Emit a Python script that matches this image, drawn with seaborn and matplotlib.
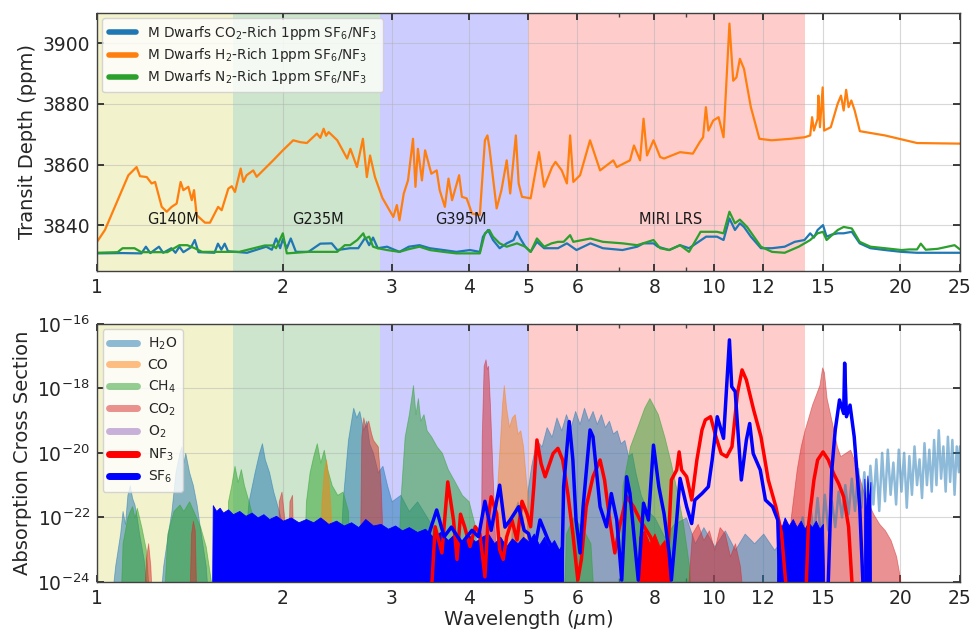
import numpy as np
import pandas as pd
import matplotlib
matplotlib.use("Agg")
import matplotlib.pyplot as plt
import seaborn as sns
from matplotlib.lines import Line2D
from matplotlib.ticker import FixedLocator, FixedFormatter, NullFormatter, LogLocator, NullLocator

# ---------------- observing modes ----------------
band_names = ["G140M", "G235M", "G395M", "MIRI LRS"]
band_lo = [1.0, 1.66, 2.87, 5.0]
band_hi = [1.66, 2.87, 5.0, 14.0]
band_colors = [(0.75, 0.75, 0.0), (0.0, 0.5, 0.0), (0.0, 0.0, 1.0), (1.0, 0.0, 0.0)]
band_label_x = [1.33, 2.28, 3.88, 8.49]
band_label_y = 3842.0

xtick_vals = [1, 2, 3, 4, 5, 6, 8, 10, 12, 15, 20, 25]
xtick_labels = ["1", "2", "3", "4", "5", "6", "8", "10", "12", "15", "20", "25"]

# ---------------- top panel: transit depth (ppm) ----------------
wl_h2 = [1.00, 1.03, 1.124, 1.159, 1.174, 1.204, 1.226, 1.242, 1.273, 1.297, 1.321, 1.346, 1.366, 1.380,
         1.406, 1.424, 1.436, 1.450, 1.496, 1.524, 1.571, 1.592, 1.632, 1.653, 1.673, 1.709, 1.726, 1.747,
         1.791, 1.814, 1.929, 2.00, 2.079, 2.133, 2.187, 2.271, 2.300, 2.329, 2.350, 2.373, 2.45, 2.542, 2.573, 2.637,
         2.696, 2.736, 2.769, 2.82, 2.90, 3.02, 3.06, 3.09, 3.14, 3.19, 3.25, 3.28, 3.31, 3.36, 3.40, 3.48,
         3.55, 3.59, 3.66, 3.71, 3.76, 3.86, 3.90, 3.97, 4.05, 4.17, 4.25, 4.29, 4.32, 4.44, 4.52, 4.61,
         4.67, 4.77, 4.82, 4.88, 5.04, 5.20, 5.30, 5.46, 5.53, 5.66, 5.77, 5.84, 5.91, 6.06, 6.29, 6.45,
         6.53, 6.86, 6.95, 7.30, 7.41, 7.58, 7.68, 7.78, 7.97, 8.17, 8.29, 8.80, 9.23, 9.47, 9.59, 9.69,
         9.78, 9.96, 10.16, 10.35, 10.58, 10.73, 10.86, 11.00, 11.17, 11.46, 11.83, 12.38, 13.3, 14.0,
         14.3, 14.4, 14.5, 14.7, 14.74, 14.83, 14.98, 15.06, 15.44, 15.84, 16.04, 16.2, 16.35, 16.5,
         16.67, 16.88, 17.21, 18.9, 21.3, 25.0]
td_h2 = [3834.6, 3838.5, 3856.5, 3859.2, 3856.2, 3855.9, 3853.8, 3854.3, 3846.1, 3844.5, 3846.1, 3847.2,
         3854.3, 3851.6, 3852.7, 3848.3, 3851.6, 3843.4, 3840.9, 3840.9, 3846.1, 3845.0, 3852.1, 3852.9,
         3851.0, 3858.7, 3854.3, 3856.5, 3858.1, 3856.0, 3861.4, 3864.7, 3868.0, 3867.4, 3867.1, 3870.2,
         3868.8, 3871.8, 3869.5, 3870.7, 3868.0, 3862.0, 3865.2, 3859.2, 3868.5, 3855.9, 3863.0, 3855.9, 3849.0, 3842.8,
         3846.7, 3841.7, 3850.5, 3854.8, 3868.5, 3852.7, 3865.2, 3854.8, 3864.7, 3857.0, 3858.1, 3851.6,
         3846.1, 3855.4, 3848.3, 3856.5, 3849.4, 3848.9, 3843.9, 3843.4, 3868.0, 3869.6, 3865.8, 3845.6,
         3851.6, 3861.4, 3850.5, 3869.6, 3853.8, 3849.4, 3848.9, 3864.1, 3852.7, 3859.2, 3860.9, 3858.1,
         3853.8, 3869.6, 3854.3, 3856.5, 3868.0, 3861.4, 3858.1, 3861.4, 3859.2, 3861.4, 3866.3, 3861.4,
         3875.1, 3863.0, 3868.0, 3862.5, 3862.0, 3864.1, 3863.6, 3867.4, 3869.0, 3878.9, 3871.2, 3874.5,
         3875.6, 3869.0, 3906.4, 3887.6, 3888.7, 3894.8, 3891.5, 3878.9, 3868.5, 3868.0, 3868.5, 3869.0,
         3869.6, 3875.6, 3871.2, 3875.1, 3882.7, 3872.3, 3885.4, 3871.2, 3872.3, 3880.0, 3882.7, 3877.8,
         3884.6, 3878.9, 3881.1, 3877.8, 3871.0, 3869.6, 3867.1, 3866.9]

wl_co2 = [1.0, 1.1, 1.18, 1.2, 1.22, 1.26, 1.28, 1.32, 1.34, 1.36, 1.38, 1.42, 1.44, 1.46, 1.55, 1.57, 1.59,
          1.61, 1.63, 1.75, 1.88, 1.92, 1.95, 1.98, 2.0, 2.03, 2.06, 2.1, 2.2, 2.3, 2.4, 2.45, 2.57, 2.65,
          2.72, 2.76, 2.8, 2.85, 2.95, 3.09, 3.2, 3.33, 3.46, 3.64, 3.82, 4.02, 4.17, 4.22, 4.3, 4.38, 4.49,
          4.61, 4.73, 4.79, 4.85, 4.94, 5.04, 5.16, 5.3, 5.58, 5.77, 5.98, 6.3, 6.6, 7.1, 7.5, 7.68, 7.97,
          8.1, 8.45, 8.8, 9.1, 9.35, 9.7, 10.1, 10.35, 10.58, 10.8, 11.0, 11.17, 11.46, 11.9, 12.4, 13.0,
          13.5, 14.0, 14.3, 14.5, 14.7, 15.0, 15.2, 15.5, 15.85, 16.2, 16.7, 17.2, 17.9, 18.9, 20.1, 21.3,
          25.0]
td_co2 = [3830.8, 3830.9, 3830.8, 3833.0, 3830.9, 3833.0, 3831.0, 3832.5, 3831.0, 3833.0, 3831.2, 3832.8,
          3835.2, 3831.2, 3831.0, 3834.0, 3832.0, 3834.0, 3831.5, 3831.0, 3833.0, 3832.0, 3835.7, 3832.5,
          3835.5, 3832.5, 3835.7, 3831.3, 3831.3, 3834.0, 3834.1, 3831.9, 3832.5, 3832.5, 3836.0, 3833.5,
          3836.0, 3832.5, 3833.0, 3831.3, 3833.0, 3833.5, 3832.5, 3831.9, 3831.3, 3831.9, 3831.3, 3836.3,
          3838.5, 3835.2, 3832.5, 3834.1, 3835.2, 3837.9, 3835.7, 3833.0, 3831.3, 3834.6, 3832.5, 3832.5,
          3834.1, 3831.9, 3834.1, 3832.5, 3831.9, 3833.0, 3834.1, 3834.1, 3833.0, 3831.9, 3833.5, 3832.5,
          3834.1, 3836.3, 3836.3, 3835.2, 3842.3, 3838.5, 3840.7, 3839.5, 3836.3, 3832.5, 3832.5, 3833.0,
          3834.6, 3835.2, 3837.4, 3836.0, 3838.5, 3840.1, 3836.3, 3837.0, 3837.4, 3837.4, 3837.9, 3834.1,
          3832.5, 3831.9, 3831.3, 3831.0, 3831.0]

wl_n2 = [1.0, 1.08, 1.1, 1.15, 1.18, 1.3, 1.36, 1.4, 1.44, 1.48, 1.7, 1.87, 1.93, 1.95, 2.0, 2.03, 2.2, 2.45,
         2.52, 2.57, 2.64, 2.7, 2.72, 2.76, 2.8, 2.85, 2.95, 3.09, 3.2, 3.33, 3.46, 3.64, 3.82, 4.02, 4.17,
         4.25, 4.32, 4.38, 4.49, 4.61, 4.79, 4.94, 5.04, 5.16, 5.3, 5.45, 5.58, 5.7, 5.84, 5.91, 6.3, 6.6,
         7.1, 7.5, 7.97, 8.17, 8.45, 8.8, 9.1, 9.5, 10.1, 10.35, 10.58, 10.8, 11.0, 11.3, 11.9, 12.4, 13.0,
         13.7, 14.0, 14.3, 14.7, 15.0, 15.2, 15.85, 16.2, 16.7, 17.2, 17.9, 18.9, 20.1, 20.7, 21.3, 21.6,
         22.0, 23.0, 24.5, 25.0]
td_n2 = [3831.0, 3831.2, 3832.5, 3832.5, 3831.2, 3831.2, 3833.5, 3833.5, 3832.5, 3831.3, 3831.3, 3833.4,
         3833.4, 3832.5, 3837.4, 3830.8, 3831.3, 3831.3, 3833.5, 3833.5, 3835.2, 3837.4, 3835.7, 3836.3,
         3833.0, 3832.5, 3831.9, 3831.3, 3832.2, 3833.0, 3831.9, 3831.3, 3830.8, 3830.8, 3830.8, 3837.4,
         3838.5, 3836.3, 3834.1, 3833.0, 3834.1, 3833.0, 3831.3, 3835.7, 3833.0, 3834.1, 3834.6, 3834.6,
         3836.8, 3834.6, 3835.7, 3834.6, 3834.1, 3833.5, 3835.2, 3832.5, 3831.9, 3833.5, 3831.3, 3837.9,
         3837.9, 3837.4, 3844.5, 3840.7, 3841.9, 3839.5, 3833.0, 3831.3, 3831.0, 3833.0, 3834.1, 3835.2,
         3837.4, 3837.9, 3835.2, 3838.5, 3839.5, 3839.0, 3834.6, 3833.0, 3832.5, 3831.9, 3832.1, 3832.1,
         3834.0, 3832.0, 3832.3, 3833.5, 3832.1]

# ---------------- bottom panel: absorption cross sections (log10) ----------------
wl_h2o = [1.05, 1.07, 1.09, 1.10, 1.11, 1.12, 1.13, 1.14, 1.15, 1.16, 1.17, 1.19, 1.20, 1.21,
          1.26, 1.28, 1.30, 1.32, 1.34, 1.36, 1.37, 1.38, 1.39, 1.41, 1.43, 1.45, 1.47, 1.50, 1.52,
          1.70, 1.73, 1.76, 1.80, 1.83, 1.85, 1.87, 1.90, 1.93, 1.97, 2.00, 2.05, 2.10,
          2.45, 2.50, 2.55, 2.60, 2.63, 2.66, 2.70, 2.73, 2.76, 2.80, 2.85, 2.90, 2.95, 3.00, 3.10,
          3.20, 3.30, 3.40, 3.50, 3.60,
          4.65, 4.70, 4.80, 4.90, 4.95,
          4.98, 5.05, 5.15, 5.25, 5.35, 5.45, 5.55, 5.65, 5.75, 5.85, 5.95, 6.05, 6.15, 6.25, 6.35, 6.45,
          6.55, 6.65, 6.75, 6.85, 6.95, 7.05, 7.15, 7.25, 7.35, 7.45, 7.6, 7.8, 8.0, 8.3, 8.6, 9.0, 9.3,
          9.6, 10.0, 10.4, 10.8, 11.2, 11.6, 12.0, 12.5, 13.0, 13.6]
lc_h2o = [-25.0, -23.5, -22.5, -21.8, -22.2, -21.3, -21.0, -21.4, -21.6, -22.0, -22.5, -23.3, -24.0, -25.0,
          -25.0, -23.5, -22.6, -21.8, -20.6, -20.0, -19.8, -20.3, -20.0, -20.6, -21.0, -21.6, -22.4, -23.5, -25.0,
          -25.0, -23.0, -21.5, -20.6, -20.0, -19.7, -20.2, -20.6, -21.2, -21.8, -22.3, -23.0, -25.0,
          -25.0, -21.5, -19.6, -18.6, -18.9, -18.7, -19.3, -19.0, -19.7, -20.0, -20.6, -20.4, -21.0, -21.5, -21.3,
          -21.8, -21.5, -21.9, -22.3, -25.0,
          -25.0, -22.0, -21.5, -22.0, -25.0,
          -21.2, -20.4, -19.6, -19.8, -19.2, -19.5, -18.9, -19.3, -18.8, -19.2, -18.7, -19.1, -18.6, -19.0,
          -18.7, -19.1, -18.8, -19.2, -19.0, -19.4, -19.3, -19.7, -19.6, -20.1, -20.0, -20.6, -21.3, -21.8,
          -22.0, -22.6, -22.2, -22.0, -22.8, -22.3, -22.9, -22.4, -23.0, -22.5, -22.8, -22.5, -23.0, -22.6, -23.5]
wl_h2o_ir = [13.6, 13.9, 14.1, 14.3, 14.5, 14.7, 14.9, 15.1, 15.3, 15.5, 15.7, 15.9, 16.1, 16.3, 16.5, 16.7,
             16.9, 17.1, 17.3, 17.5, 17.7, 17.9, 18.1, 18.3, 18.5, 18.7, 18.9, 19.1, 19.3, 19.5, 19.7, 19.9,
             20.1, 20.3, 20.5, 20.7, 20.9, 21.1, 21.3, 21.5, 21.7, 21.9, 22.1, 22.3, 22.5, 22.7, 22.9, 23.1,
             23.3, 23.5, 23.7, 23.9, 24.1, 24.3, 24.5, 24.7, 24.9, 25.0]
lc_h2o_ir = [-23.5, -22.0, -23.0, -21.6, -22.6, -21.4, -22.8, -21.3, -22.4, -21.5, -22.3, -21.2, -22.0, -21.0,
             -21.9, -20.8, -21.8, -20.5, -21.7, -20.6, -21.9, -20.4, -21.6, -20.2, -21.8, -20.0, -21.5, -19.9,
             -21.3, -20.3, -21.6, -19.9, -21.2, -20.0, -21.7, -20.1, -21.3, -19.8, -21.0, -20.2, -21.4, -19.7,
             -21.0, -19.9, -21.2, -19.6, -21.0, -19.3, -20.8, -19.8, -21.2, -19.5, -20.9, -19.6, -21.3, -19.8,
             -20.6, -19.8]

wl_co = [2.29, 2.31, 2.33, 2.35, 2.37, 2.39, 2.41,
         4.42, 4.45, 4.50, 4.53, 4.56, 4.60, 4.65, 4.70, 4.75, 4.80, 4.85, 4.90, 4.95, 5.00, 5.05]
lc_co = [-25.0, -21.5, -20.6, -20.2, -20.8, -21.8, -25.0,
         -25.0, -21.0, -19.5, -18.5, -17.9, -18.6, -19.2, -18.9, -18.8, -19.4, -19.3, -19.8, -20.8, -21.6, -25.0]

wl_ch4 = [1.09, 1.10, 1.12, 1.13, 1.14, 1.15, 1.16, 1.18, 1.20, 1.22,
          1.28, 1.30, 1.33, 1.36, 1.38, 1.41, 1.44, 1.47, 1.50, 1.53, 1.55,
          1.62, 1.63, 1.65, 1.67, 1.69, 1.71, 1.73, 1.76, 1.80, 1.82,
          2.15, 2.18, 2.21, 2.24, 2.27, 2.30, 2.33, 2.36, 2.40, 2.45, 2.50, 2.55, 2.58,
          3.05, 3.10, 3.15, 3.20, 3.25, 3.28, 3.31, 3.34, 3.38, 3.42, 3.48, 3.55, 3.62, 3.70, 3.80, 3.90,
          4.00, 4.10, 4.15,
          5.70, 5.75, 5.90, 6.10, 6.30, 6.40,
          7.00, 7.10, 7.30, 7.50, 7.70, 7.85, 7.95, 8.10, 8.30, 8.50, 8.70, 8.90, 9.10, 9.20]
lc_ch4 = [-25.0, -22.8, -22.0, -21.8, -21.65, -22.0, -21.7, -22.3, -23.0, -25.0,
          -25.0, -22.5, -21.8, -21.6, -21.8, -21.5, -21.9, -22.3, -22.9, -24.0, -25.0,
          -25.0, -21.5, -21.0, -20.4, -20.9, -20.5, -21.0, -21.5, -22.2, -25.0,
          -25.0, -21.5, -20.6, -20.1, -19.7, -20.3, -19.9, -20.5, -21.0, -21.3, -21.2, -21.8, -25.0,
          -25.0, -21.5, -19.5, -18.8, -17.9, -18.8, -18.3, -19.0, -18.8, -19.3, -19.5, -19.8, -20.0, -20.5,
          -20.9, -21.3, -21.5, -22.3, -25.0,
          -25.0, -22.5, -22.0, -22.3, -22.8, -25.0,
          -25.0, -21.0, -19.8, -19.2, -18.6, -18.3, -18.5, -18.8, -19.5, -20.3, -21.2, -22.2, -23.5, -25.0]

wl_co2b = [1.19, 1.20, 1.21, 1.22, 1.23,
           1.41, 1.42, 1.43, 1.44, 1.45,
           1.96, 1.97, 1.99, 2.01, 2.03, 2.05, 2.07, 2.09,
           2.66, 2.68, 2.70, 2.72, 2.75, 2.78, 2.80, 2.85, 2.88, 2.90, 2.92,
           4.18, 4.20, 4.23, 4.26, 4.28, 4.30, 4.33, 4.37, 4.42, 4.45,
           9.0, 9.2, 9.4, 9.6, 9.8, 10.0, 10.2, 10.4, 10.6, 10.8, 11.0, 11.2,
           13.0, 13.3, 13.6, 13.8, 14.0, 14.2, 14.4, 14.6, 14.8, 14.95, 15.05, 15.2, 15.4, 15.6, 15.8,
           16.0, 16.3, 16.6, 16.9, 17.2, 17.5, 17.8, 18.1, 18.5, 18.9, 19.3, 19.7, 20.0, 20.1]
lc_co2b = [-25.0, -23.3, -22.8, -23.5, -25.0,
           -25.0, -22.5, -22.1, -22.4, -25.0,
           -25.0, -21.5, -21.2, -22.0, -25.0, -21.5, -21.3, -25.0,
           -25.0, -19.5, -18.9, -19.2, -19.0, -19.4, -19.6, -19.8, -21.0, -22.5, -25.0,
           -25.0, -19.5, -17.3, -17.1, -17.4, -17.3, -18.5, -20.5, -23.0, -25.0,
           -25.0, -22.5, -22.2, -22.7, -22.4, -23.0, -22.3, -22.5, -23.2, -22.8, -23.5, -25.0,
           -25.0, -22.0, -20.5, -19.8, -19.3, -18.9, -18.5, -18.2, -17.9, -17.35, -17.5, -18.3, -18.8,
           -19.3, -19.8, -20.1, -20.0, -19.9, -20.3, -20.8, -21.3, -21.6, -21.9, -22.2, -22.4, -22.7,
           -23.2, -23.9, -25.0]

wl_nf3 = [3.45, 3.49, 3.53, 3.62, 3.70, 3.78, 3.83, 3.88, 3.94, 4.02, 4.10, 4.17, 4.25, 4.30, 4.35, 4.44,
          4.49, 4.55, 4.61, 4.70, 4.79, 4.88, 4.97, 5.04, 5.10, 5.16, 5.24, 5.32, 5.48, 5.58, 5.68, 5.79,
          5.90, 6.01, 6.09, 6.20, 6.36, 6.53, 6.64, 6.77, 6.90, 7.02, 7.21, 7.40, 7.58, 7.88, 8.07, 8.37,
          8.52, 8.69, 8.77, 8.85, 9.02, 9.19, 9.37, 9.55, 9.67, 9.86, 10.06, 10.26, 10.47, 10.68, 10.90,
          11.09, 11.27, 11.58, 11.90, 12.23, 12.58, 12.85, 13.04, 13.3,
          14.0, 14.1, 14.2, 14.5, 14.7, 15.0, 15.3, 15.6, 15.9, 16.2, 16.5, 16.7, 16.9]
lc_nf3 = [-25.0, -23.94, -22.29, -23.1, -20.9, -22.08, -23.3, -21.9, -22.29, -22.9, -22.29, -22.5, -23.84,
          -22.08, -21.36, -21.88, -23.0, -23.3, -22.6, -22.08, -22.7, -21.5, -21.88, -22.29, -21.05, -19.6,
          -20.33, -20.74, -20.02, -19.86, -20.22, -21.26, -22.5, -23.94, -23.3, -21.67, -20.74, -20.22,
          -20.84, -22.08, -23.1, -22.29, -21.36, -21.67, -22.08, -22.6, -23.1, -23.94, -20.84, -20.53,
          -19.97, -20.53, -20.74, -21.46, -20.22, -19.29, -18.98, -18.88, -19.5, -20.02, -20.12, -19.81,
          -18.16, -17.43, -17.74, -18.67, -19.5, -20.84, -21.67, -22.5, -23.94, -25.0,
          -25.0, -23.94, -22.29, -20.84, -20.22, -19.97, -20.22, -20.64, -20.95, -21.36, -22.29, -23.94, -25.0]
wl_nf3f = [7.50, 7.55, 7.70, 7.85, 8.00, 8.15, 8.30, 8.45, 8.50]
lc_nf3f = [-25.0, -22.6, -22.4, -22.8, -22.5, -22.9, -22.7, -23.2, -25.0]

wl_sf6f = [1.535, 1.54, 1.56, 1.58, 1.60, 1.63, 1.66, 1.70, 1.74, 1.78, 1.82, 1.86, 1.90, 1.95, 2.00, 2.06,
           2.12, 2.18, 2.24, 2.30, 2.37, 2.44, 2.51, 2.58, 2.65, 2.72, 2.80, 2.88, 2.96, 3.04, 3.12, 3.20,
           3.30, 3.40, 3.50, 3.60, 3.70, 3.80, 3.90, 4.00, 4.10, 4.20, 4.30, 4.40, 4.50, 4.60, 4.70, 4.80,
           4.90, 5.00, 5.10, 5.20, 5.30, 5.40, 5.50, 5.60, 5.68, 5.70,
           12.60, 12.70, 12.85, 13.0, 13.2, 13.4, 13.6, 13.8, 14.0, 14.2, 14.4, 14.6, 14.8, 15.0, 15.1,
           17.45, 17.5, 17.6, 17.7, 17.8, 17.9, 17.95]
lc_sf6f = [-25.0, -21.62, -21.8, -21.7, -21.85, -21.75, -21.9, -21.8, -21.95, -21.85, -22.0, -21.9, -22.05,
           -21.95, -22.1, -22.0, -22.15, -22.05, -22.15, -22.0, -22.2, -22.1, -22.25, -22.15, -22.3, -22.05,
           -22.25, -22.2, -22.35, -22.25, -22.4, -22.3, -22.45, -22.35, -22.6, -22.45, -22.7, -22.5, -22.8,
           -22.55, -22.75, -22.6, -22.5, -22.8, -22.6, -22.9, -22.65, -22.8, -22.6, -22.75, -22.5, -22.85,
           -22.6, -22.9, -22.7, -23.0, -22.8, -25.0,
           -25.0, -22.1, -22.3, -22.0, -22.25, -22.05, -22.3, -22.1, -22.35, -22.15, -22.3, -22.1, -22.35,
           -22.2, -25.0,
           -25.0, -20.8, -22.0, -20.7, -21.5, -20.9, -25.0]
wl_sf6 = [3.40, 3.45, 3.55, 3.65, 3.75, 3.90, 4.05, 4.15, 4.25, 4.35, 4.49, 4.58, 4.67, 4.82, 4.92, 5.00,
          5.10, 5.22, 5.38, 5.52, 5.66, 5.70, 5.82, 5.90, 5.97, 6.06, 6.13, 6.29, 6.36, 6.53, 6.69, 6.81,
          6.95, 7.08, 7.21, 7.30, 7.44, 7.53, 7.68, 7.82, 7.97, 8.13, 8.29, 8.45, 8.52, 8.69, 8.80, 9.02,
          9.19, 9.30, 9.55, 9.78, 9.92, 10.11, 10.35, 10.58, 10.67, 10.81, 11.06, 11.27, 11.41, 11.56,
          11.87, 12.10, 12.43, 12.67, 12.8,
          15.2, 15.3, 15.5, 15.7, 15.95, 16.2, 16.26, 16.37, 16.59, 16.85, 17.2, 17.4, 17.45]
lc_sf6 = [-25.0, -22.5, -21.77, -22.6, -22.3, -22.8, -22.4, -22.6, -21.5, -22.4, -21.0, -22.3, -22.08,
          -21.67, -22.4, -22.5, -23.1, -22.08, -22.7, -23.1, -23.94, -21.05, -19.03, -20.22, -22.08, -23.1,
          -21.67, -19.29, -19.5, -21.67, -22.29, -21.26, -22.08, -23.94, -20.74, -21.26, -22.9, -23.94,
          -21.56, -22.08, -19.76, -21.05, -21.88, -23.1, -23.94, -22.08, -20.79, -21.67, -22.19, -21.46,
          -21.26, -21.05, -20.22, -18.88, -19.55, -16.5, -17.95, -18.1, -20.84, -19.6, -19.09, -20.02,
          -20.53, -21.46, -21.67, -22.08, -25.0,
          -25.0, -23.94, -20.53, -19.29, -18.36, -18.78, -17.22, -18.88, -18.52, -19.5, -21.67, -23.94, -25.0]

species = ["H$_2$O", "CO", "CH$_4$", "CO$_2$", "O$_2$", "NF$_3$", "SF$_6$"]
species_colors = ["#1f77b4", "#ff7f0e", "#2ca02c", "#d62728", "#9467bd", "red", "blue"]
species_alpha = [0.5, 0.5, 0.5, 0.5, 0.5, 1.0, 1.0]

# ---------------- styling ----------------
sns.set_theme(style="whitegrid")
plt.rcParams.update({
    "font.family": ["DejaVu Sans"],
    "axes.edgecolor": "0.25",
    "axes.linewidth": 1.0,
    "xtick.direction": "in",
    "ytick.direction": "in",
    "xtick.top": True,
    "ytick.right": True,
    "xtick.bottom": True,
    "ytick.left": True,
    "xtick.major.size": 5,
    "ytick.major.size": 5,
    "xtick.minor.size": 3,
    "xtick.color": "0.15",
    "ytick.color": "0.15",
    "grid.color": "0.7",
    "grid.alpha": 0.5,
    "grid.linewidth": 0.8,
    "mathtext.fontset": "dejavusans",
})

fig = plt.figure(figsize=(9.74, 6.31), dpi=100)
ax1 = fig.add_axes([0.0996, 0.5705, 0.886, 0.4095])
ax2 = fig.add_axes([0.0996, 0.0777, 0.886, 0.4092])


def style_x(ax):
    ax.set_xscale("log")
    ax.set_xlim(1, 25)
    ax.xaxis.set_major_locator(FixedLocator(xtick_vals))
    ax.xaxis.set_major_formatter(FixedFormatter(xtick_labels))
    ax.xaxis.set_minor_locator(LogLocator(base=10, subs=np.arange(2, 10)))
    ax.xaxis.set_minor_formatter(NullFormatter())
    ax.tick_params(axis="both", which="major", labelsize=13.5, pad=5)
    ax.tick_params(axis="x", which="minor", length=3, color="0.25")
    ax.grid(True, which="major")
    ax.grid(False, which="minor")
    for s in ax.spines.values():
        s.set_visible(True)
        s.set_color("0.25")


for ax in (ax1, ax2):
    for lo, hi, c in zip(band_lo, band_hi, band_colors):
        ax.axvspan(lo, hi, color=c, alpha=0.2, lw=0, zorder=0)

# ---- top panel ----
top_df = pd.concat([
    pd.DataFrame({"wl": wl_co2, "td": td_co2, "case": "co2"}),
    pd.DataFrame({"wl": wl_h2, "td": td_h2, "case": "h2"}),
    pd.DataFrame({"wl": wl_n2, "td": td_n2, "case": "n2"}),
])
top_colors = {"co2": "#1f77b4", "h2": "#ff7f0e", "n2": "#2ca02c"}
for case in ["co2", "h2", "n2"]:
    sub = top_df[top_df["case"] == case]
    sns.lineplot(data=sub, x="wl", y="td", ax=ax1, color=top_colors[case], lw=1.6,
                 estimator=None, sort=False, legend=False)
style_x(ax1)
ax1.set_ylim(3825, 3910)
ax1.yaxis.set_major_locator(FixedLocator([3840, 3860, 3880, 3900]))
ax1.set_xlabel("")
ax1.set_ylabel("Transit Depth (ppm)", fontsize=14)
for name, x in zip(band_names, band_label_x):
    ax1.text(x, band_label_y, name, ha="center", va="center", fontsize=10.5, color="0.1")
top_handles = [Line2D([], [], color=top_colors[c], lw=4) for c in ["co2", "h2", "n2"]]
top_labels = ["M Dwarfs CO$_2$-Rich 1ppm SF$_6$/NF$_3$",
              "M Dwarfs H$_2$-Rich 1ppm SF$_6$/NF$_3$",
              "M Dwarfs N$_2$-Rich 1ppm SF$_6$/NF$_3$"]
ax1.legend(top_handles, top_labels, loc="upper left", fontsize=9.8, frameon=True,
           handlelength=2.0, borderpad=0.45, labelspacing=0.3, framealpha=0.8,
           borderaxespad=0.4)

# ---- bottom panel ----
ax2.set_yscale("log")
floor = 1e-25


def fill_species(wl, lc, color, alpha):
    ax2.fill_between(wl, floor, 10.0 ** np.array(lc), color=color, alpha=alpha, lw=0.6,
                     edgecolor=color, zorder=2)


fill_species(wl_h2o, lc_h2o, species_colors[0], 0.5)
fill_species(wl_ch4, lc_ch4, species_colors[2], 0.5)
fill_species(wl_co2b, lc_co2b, species_colors[3], 0.5)
fill_species(wl_co, lc_co, species_colors[1], 0.5)
sns.lineplot(x=wl_h2o_ir, y=10.0 ** np.array(lc_h2o_ir), ax=ax2, color=species_colors[0], alpha=0.5,
             lw=1.8, estimator=None, sort=False, legend=False)
fill_species(wl_sf6f, lc_sf6f, "blue", 1.0)
fill_species(wl_nf3f, lc_nf3f, "red", 1.0)
sns.lineplot(x=wl_nf3, y=10.0 ** np.array(lc_nf3), ax=ax2, color="red", lw=2.5,
             estimator=None, sort=False, legend=False, zorder=4)
sns.lineplot(x=wl_sf6, y=10.0 ** np.array(lc_sf6), ax=ax2, color="blue", lw=2.5,
             estimator=None, sort=False, legend=False, zorder=5)

style_x(ax2)
ax2.set_ylim(1e-24, 1e-16)
ax2.yaxis.set_major_locator(FixedLocator([1e-24, 1e-22, 1e-20, 1e-18, 1e-16]))
ax2.yaxis.set_minor_locator(NullLocator())
ax2.set_xlabel("Wavelength ($\\mu$m)", fontsize=14, labelpad=0)
ax2.set_ylabel("Absorption Cross Section", fontsize=14)
sp_handles = [Line2D([], [], color=c, alpha=a, lw=5) for c, a in zip(species_colors, species_alpha)]
ax2.legend(sp_handles, species, loc="upper left", fontsize=10, frameon=True,
           handlelength=2.0, borderpad=0.45, labelspacing=0.45, framealpha=0.8,
           borderaxespad=0.4)

fig.savefig("out.png", dpi=100)
